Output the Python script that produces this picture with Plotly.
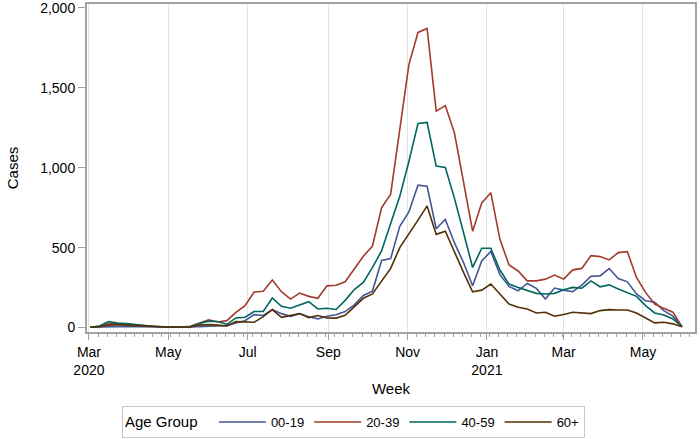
import plotly.graph_objects as go
import pandas as pd

start_week = "2020-03-02"
n_weeks = 66
weeks = pd.date_range(start_week, periods=n_weeks, freq="7D")

age_groups = ["00-19", "20-39", "40-59", "60+"]
colors = ["#445694", "#A23A2E", "#01665E", "#543005"]

cases_00_19 = [2, 3, 8, 8, 6, 5, 3, 5, 3, 2, 2, 3, 5, 8, 8, 12, 29, 43, 81, 75,
               112, 87, 70, 87, 68, 54, 71, 80, 100, 142, 201, 228, 420, 432, 634, 723, 891, 885, 618, 676,
               531, 407, 261, 417, 476, 331, 257, 230, 276, 245, 178, 247, 234, 224, 265, 321, 323, 369, 307, 286,
               210, 168, 158, 106, 71, 5]
cases_20_39 = [2, 8, 25, 25, 22, 15, 10, 8, 5, 3, 3, 8, 30, 48, 35, 43, 95, 137, 222, 227,
               297, 224, 178, 216, 195, 183, 261, 265, 286, 370, 446, 510, 749, 835, 1240, 1646, 1847, 1872, 1354, 1389,
               1219, 900, 603, 780, 844, 552, 392, 354, 292, 292, 303, 328, 303, 361, 370, 450, 444, 423, 469, 475,
               313, 220, 147, 120, 96, 5]
cases_40_59 = [2, 10, 37, 28, 25, 18, 10, 6, 3, 3, 3, 5, 25, 40, 38, 20, 60, 64, 100, 100,
               185, 133, 121, 141, 162, 116, 121, 113, 170, 238, 282, 376, 479, 651, 821, 1039, 1277, 1284, 1010, 1002,
               810, 595, 376, 496, 496, 360, 272, 251, 230, 214, 210, 214, 236, 251, 246, 292, 255, 267, 241, 220,
               195, 137, 91, 79, 54, 5]
cases_60_plus = [2, 5, 15, 18, 15, 12, 8, 5, 3, 2, 2, 3, 15, 18, 15, 10, 37, 37, 33, 68,
                 112, 64, 75, 87, 62, 75, 60, 59, 77, 130, 183, 210, 290, 370, 500, 583, 672, 761, 583, 603,
                 469, 345, 224, 234, 272, 206, 147, 127, 116, 91, 96, 71, 81, 96, 91, 87, 106, 112, 110, 110,
                 91, 58, 29, 33, 23, 5]
series = [cases_00_19, cases_20_39, cases_40_59, cases_60_plus]

x_tickvals = ["2020-03-01", "2020-05-01", "2020-07-01", "2020-09-01", "2020-11-01",
              "2021-01-01", "2021-03-01", "2021-05-01"]
x_ticktext = ["Mar<br>2020", "May", "Jul", "Sep", "Nov", "Jan<br>2021", "Mar", "May"]
y_tickvals = [0, 500, 1000, 1500, 2000]

fig = go.Figure()
for name, vals, col in zip(age_groups, series, colors):
    fig.add_trace(go.Scatter(x=weeks, y=vals, name=name, mode="lines",
                             line=dict(color=col, width=1.6)))

frame = "#A0A3A6"
fig.update_layout(
    width=700, height=439,
    margin=dict(l=87, r=5, t=4, b=107),
    paper_bgcolor="white", plot_bgcolor="white",
    font=dict(family="Liberation Sans, Arial, sans-serif", size=14, color="black"),
    showlegend=True,
    legend=dict(orientation="h", xref="container", yref="container",
                x=0.505, xanchor="center", y=0.002, yanchor="bottom",
                title=dict(text="Age Group\u00a0\u00a0", font=dict(size=15), side="left"),
                bordercolor="#C8C8C8", borderwidth=1, font=dict(size=13),
                itemwidth=47, tracegroupgap=0),
)
fig.update_xaxes(
    automargin=False,
    range=["2020-02-28 12:00", "2021-06-10"],
    tickmode="array", tickvals=x_tickvals, ticktext=x_ticktext,
    ticks="outside", ticklen=6, tickcolor=frame, tickwidth=1,
    showgrid=True, gridcolor="#E3E3E3", gridwidth=1,
    showline=True, linecolor=frame, linewidth=2, mirror=True,
    minor=dict(ticks="outside", ticklen=3, tickcolor=frame, tickmode="linear",
               tick0="2020-03-01", dtick=7 * 86400000, showgrid=False),
    title=dict(text="Week", font=dict(size=15), standoff=6),
    zeroline=False, ticklabeloverflow="allow",
)
fig.update_yaxes(
    automargin=False,
    range=[-28, 2025],
    tickmode="array", tickvals=y_tickvals, tickformat=",d",
    ticks="outside", ticklen=7, tickcolor=frame, tickwidth=1,
    showgrid=False,
    showline=True, linecolor=frame, linewidth=2, mirror=True,
    title=dict(text="Cases", font=dict(size=15), standoff=18),
    zeroline=False, ticklabeloverflow="allow",
)
fig.write_html("out.html", config={"displayModeBar": False},
               post_script="document.body.style.margin='0';")
